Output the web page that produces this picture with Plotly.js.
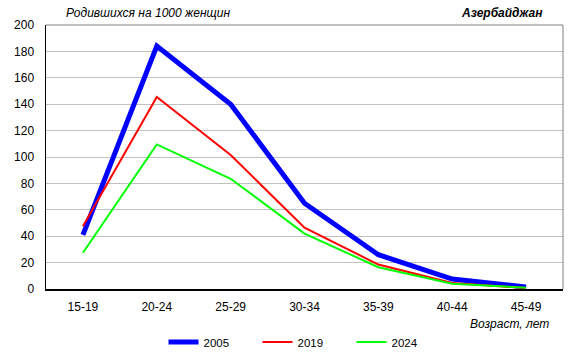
<!DOCTYPE html>
<html><head><meta charset="utf-8">
<script src="https://cdn.plot.ly/plotly-3.0.1.min.js"></script>
<style>html,body{margin:0;padding:0;background:#fff}#chart{width:578px;height:357px}</style>
</head><body><div id="chart"></div>
<script>
const ageGroups = ["15-19","20-24","25-29","30-34","35-39","40-44","45-49"];
const years = ["2005","2019","2024"];
const rates2005 = [41, 184, 140, 65, 26, 7.5, 1.5];
const rates2019 = [47.5, 145.5, 101.5, 46.5, 18.5, 4.5, 0.7];
const rates2024 = [27.5, 109.5, 83.5, 42, 16.5, 4, 1];
const yTicks = [0,20,40,60,80,100,120,140,160,180,200];
const colors = ["#0000ff","#ff0000","#00ff00"];
const widths = [5, 2, 2];
const series = [rates2005, rates2019, rates2024];

const traces = series.map((s,i)=>({
  x: ageGroups, y: s, type:'scatter', mode:'lines', name: years[i],
  line:{color:colors[i], width:widths[i]}
}));

const font = {family:'"Liberation Sans", Arial, sans-serif', size:12, color:'#000'};
const layout = {
  width:578, height:357,
  margin:{l:46, r:15, t:25, b:68, autoexpand:false},
  paper_bgcolor:'#fff', plot_bgcolor:'#fff',
  font: font,
  showlegend:true,
  legend:{orientation:'h', x:0.5, xanchor:'center', xref:'paper', y:-0.146, yanchor:'top',
    font:{family:font.family, size:11.5, color:'#000'}, entrywidth:49, entrywidthmode:'pixels', traceorder:'normal'},
  xaxis:{type:'category', range:[-0.5,6.5], showgrid:false, zeroline:false,
    showline:true, linecolor:'#000', linewidth:1.5, ticks:'', ticklabelstandoff:6,
    tickfont:font, fixedrange:true},
  yaxis:{range:[0,200], tickvals:yTicks, showgrid:true, gridcolor:'#c0c0c0', gridwidth:1,
    zeroline:false, showline:true, linecolor:'#000', linewidth:1.5, ticks:'', ticklabelstandoff:8,
    tickfont:font, fixedrange:true},
  shapes:[
    {type:'line', xref:'paper', yref:'paper', x0:0, x1:1, y0:1, y1:1, line:{color:'#808080', width:1}},
    {type:'line', xref:'paper', yref:'paper', x0:1, x1:1, y0:0, y1:1, line:{color:'#808080', width:1}}
  ],
  annotations:[
    {text:'<i>Родившихся на 1000 женщин</i>', xref:'paper', yref:'paper', x:(64-46)/517, y:1, xanchor:'left', yanchor:'bottom', yshift:3, showarrow:false, font:font},
    {text:'<b><i>Азербайджан</i></b>', xref:'paper', yref:'paper', x:(545-46)/517, y:1, xanchor:'right', yanchor:'bottom', yshift:3, showarrow:false, font:font},
    {text:'<i>Возраст, лет</i>', xref:'paper', yref:'paper', x:(551-46)/517, y:0, xanchor:'right', yanchor:'top', yshift:-26, showarrow:false, font:font}
  ]
};
Plotly.newPlot('chart', traces, layout, {displayModeBar:false, staticPlot:true});
</script></body></html>
